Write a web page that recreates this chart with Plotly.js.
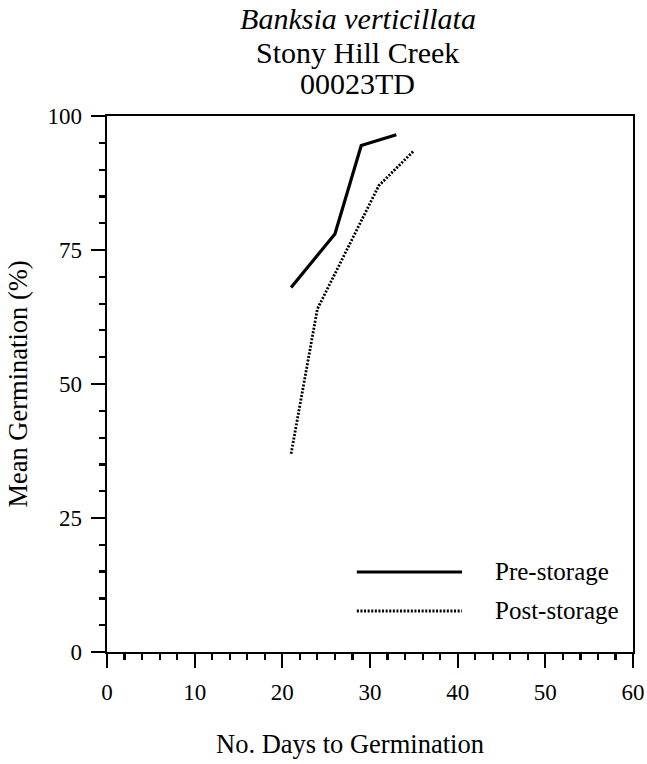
<!DOCTYPE html>
<html>
<head>
<meta charset="utf-8">
<script src="https://cdn.plot.ly/plotly-3.0.1.min.js"></script>
<style>html,body{margin:0;padding:0;background:#fff;}#chart{width:647px;height:764px;}</style>
</head>
<body>
<div id="chart"></div>
<script>
// Data
const titleLines = ["Banksia verticillata", "Stony Hill Creek", "00023TD"];
const xAxisTitle = "No. Days to Germination";
const yAxisTitle = "Mean Germination (%)";
const seriesNames = ["Pre-storage", "Post-storage"];
const preDays = [21, 26, 29, 33];
const preGermination = [68, 78, 94.5, 96.5];
const postDays = [21, 24, 31, 35];
const postGermination = [37, 64, 87, 93.5];
const xTickValues = [0, 10, 20, 30, 40, 50, 60];
const yTickValues = [0, 25, 50, 75, 100];

const FONT = "'Liberation Serif', 'Times New Roman', serif";
const TITLE_SIZE = 30;
const DOT = "2px,1.6px";

const traces = [
  {x: preDays, y: preGermination, name: seriesNames[0], type: "scatter", mode: "lines",
   line: {color: "#000", width: 3.2}},
  {x: postDays, y: postGermination, name: seriesNames[1], type: "scatter", mode: "lines",
   line: {color: "#000", width: 2.8, dash: DOT}}
];

const axisCommon = {
  showgrid: false, zeroline: false, showline: true, linecolor: "#000", linewidth: 2.4,
  mirror: true, ticks: "outside", ticklen: 14, tickwidth: 2.2, tickcolor: "#000",
  tickfont: {family: FONT, size: 23, color: "#000"}
};

const layout = {
  width: 647, height: 764,
  paper_bgcolor: "#fff", plot_bgcolor: "#fff",
  margin: {l: 107, r: 14, t: 116, b: 112},
  showlegend: false,
  font: {family: FONT, color: "#000"},
  title: {
    text: "<i>" + titleLines[0] + "</i>",
    font: {family: FONT, size: TITLE_SIZE, color: "#000"},
    x: 358 / 647, xanchor: "center", xref: "container",
    y: 1 - 18 / 764, yanchor: "middle", yref: "container"
  },
  xaxis: Object.assign({}, axisCommon, {
    range: [0, 60], tickvals: xTickValues, ticktext: xTickValues.map(String),
    ticklabelstandoff: 4,
    minor: {dtick: 2, ticks: "outside", ticklen: 6, tickwidth: 2.2, tickcolor: "#000", showgrid: false}
  }),
  yaxis: Object.assign({}, axisCommon, {
    range: [0, 100], tickvals: yTickValues, ticktext: yTickValues.map(String),
    ticklabelstandoff: 4,
    minor: {dtick: 5, ticks: "outside", ticklen: 6, tickwidth: 2.2, tickcolor: "#000", showgrid: false},
    title: {text: yAxisTitle, font: {family: FONT, size: 26.5, color: "#000"}, standoff: 12}
  }),
  shapes: [
    {type: "line", xref: "paper", yref: "paper", x0: 0.475, x1: 0.675, y0: 0.1493, y1: 0.1493,
     line: {color: "#000", width: 3.2}},
    {type: "line", xref: "paper", yref: "paper", x0: 0.475, x1: 0.675, y0: 0.0765, y1: 0.0765,
     line: {color: "#000", width: 2.8, dash: DOT}}
  ],
  annotations: [
    {xref: "paper", yref: "paper", x: 0.477, y: (652 - 52) / 536, xanchor: "center", yanchor: "middle",
     text: titleLines[1], showarrow: false, font: {family: FONT, size: TITLE_SIZE, color: "#000"}},
    {xref: "paper", yref: "paper", x: 0.477, y: (652 - 83) / 536, xanchor: "center", yanchor: "middle",
     text: titleLines[2], showarrow: false, font: {family: FONT, size: TITLE_SIZE, color: "#000"}},
    {xref: "paper", yref: "paper", x: (350 - 107) / 526, y: (652 - 744) / 536, xanchor: "center", yanchor: "middle",
     text: xAxisTitle, showarrow: false, font: {family: FONT, size: 26.5, color: "#000"}},
    {xref: "paper", yref: "paper", x: 0.734, y: 0.1493, xanchor: "left", yanchor: "middle",
     text: seriesNames[0], showarrow: false, font: {family: FONT, size: 25, color: "#000"}},
    {xref: "paper", yref: "paper", x: 0.734, y: 0.0765, xanchor: "left", yanchor: "middle",
     text: seriesNames[1], showarrow: false, font: {family: FONT, size: 25, color: "#000"}}
  ]
};

Plotly.newPlot("chart", traces, layout, {displayModeBar: false, staticPlot: true});
</script>
</body>
</html>
